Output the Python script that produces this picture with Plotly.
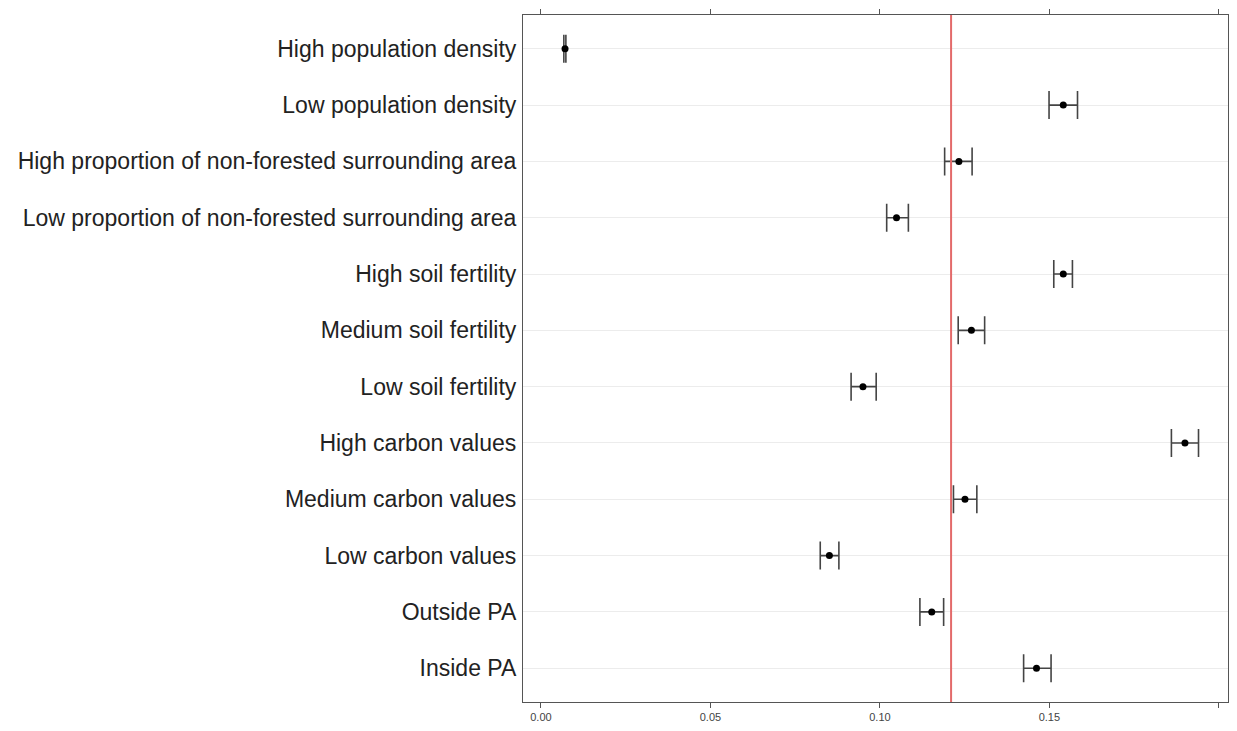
import plotly.graph_objects as go

categories = [
    "High population density",
    "Low population density",
    "High proportion of non-forested surrounding area",
    "Low proportion of non-forested surrounding area",
    "High soil fertility",
    "Medium soil fertility",
    "Low soil fertility",
    "High carbon values",
    "Medium carbon values",
    "Low carbon values",
    "Outside PA",
    "Inside PA",
]
estimate = [0.0071, 0.1541, 0.1233, 0.1049, 0.1541, 0.1270, 0.0950, 0.1900, 0.1251, 0.0851, 0.1153, 0.1462]
lower = [0.00675, 0.1499, 0.1191, 0.1020, 0.1513, 0.1231, 0.0915, 0.1860, 0.1217, 0.0824, 0.1118, 0.1424]
upper = [0.00735, 0.1583, 0.1272, 0.1084, 0.1568, 0.1309, 0.0989, 0.1940, 0.1286, 0.0879, 0.1188, 0.1505]
reference_value = 0.121
tick_values = [0.00, 0.05, 0.10, 0.15, 0.20]
tick_labels = ["0.00", "0.05", "0.10", "0.15", ""]

err_plus = [u - e for u, e in zip(upper, estimate)]
err_minus = [e - l for e, l in zip(estimate, lower)]

fig = go.Figure()
fig.add_trace(go.Scatter(
    x=estimate, y=categories, mode="markers",
    marker=dict(color="black", size=7),
    error_x=dict(type="data", symmetric=False, array=err_plus, arrayminus=err_minus,
                 color="#444444", thickness=1.6, width=14),
    showlegend=False, hoverinfo="x+y",
))

fig.add_shape(type="line", xref="x", yref="paper", x0=reference_value, x1=reference_value,
              y0=0, y1=1, line=dict(color="#e36a6a", width=2), layer="above")

fig.update_layout(
    width=1237, height=731,
    margin=dict(l=523, r=8, t=15, b=27),
    paper_bgcolor="white", plot_bgcolor="white",
    font=dict(family="Liberation Sans, Arial, sans-serif", color="#222222"),
    xaxis=dict(
        range=[-0.0053, 0.2027], tickvals=tick_values, ticktext=tick_labels,
        showgrid=False, zeroline=False, showline=True, linecolor="#555555", linewidth=1.2,
        mirror="ticks", ticks="outside", ticklen=5, tickcolor="#555555", tickwidth=1.2,
        tickfont=dict(size=11, color="#444444"),
    ),
    yaxis=dict(
        categoryorder="array", categoryarray=categories, range=[11.6, -0.6],
        showgrid=True, gridcolor="#ececec", gridwidth=1.2, zeroline=False,
        showline=True, linecolor="#555555", linewidth=1.2, mirror=True,
        ticks="", ticklabelstandoff=1,
        tickfont=dict(size=23, color="#222222"),
    ),
)

fig.write_html("out.html", config={"displayModeBar": False},
               post_script="document.body.style.margin='0';document.body.style.overflow='hidden';")
